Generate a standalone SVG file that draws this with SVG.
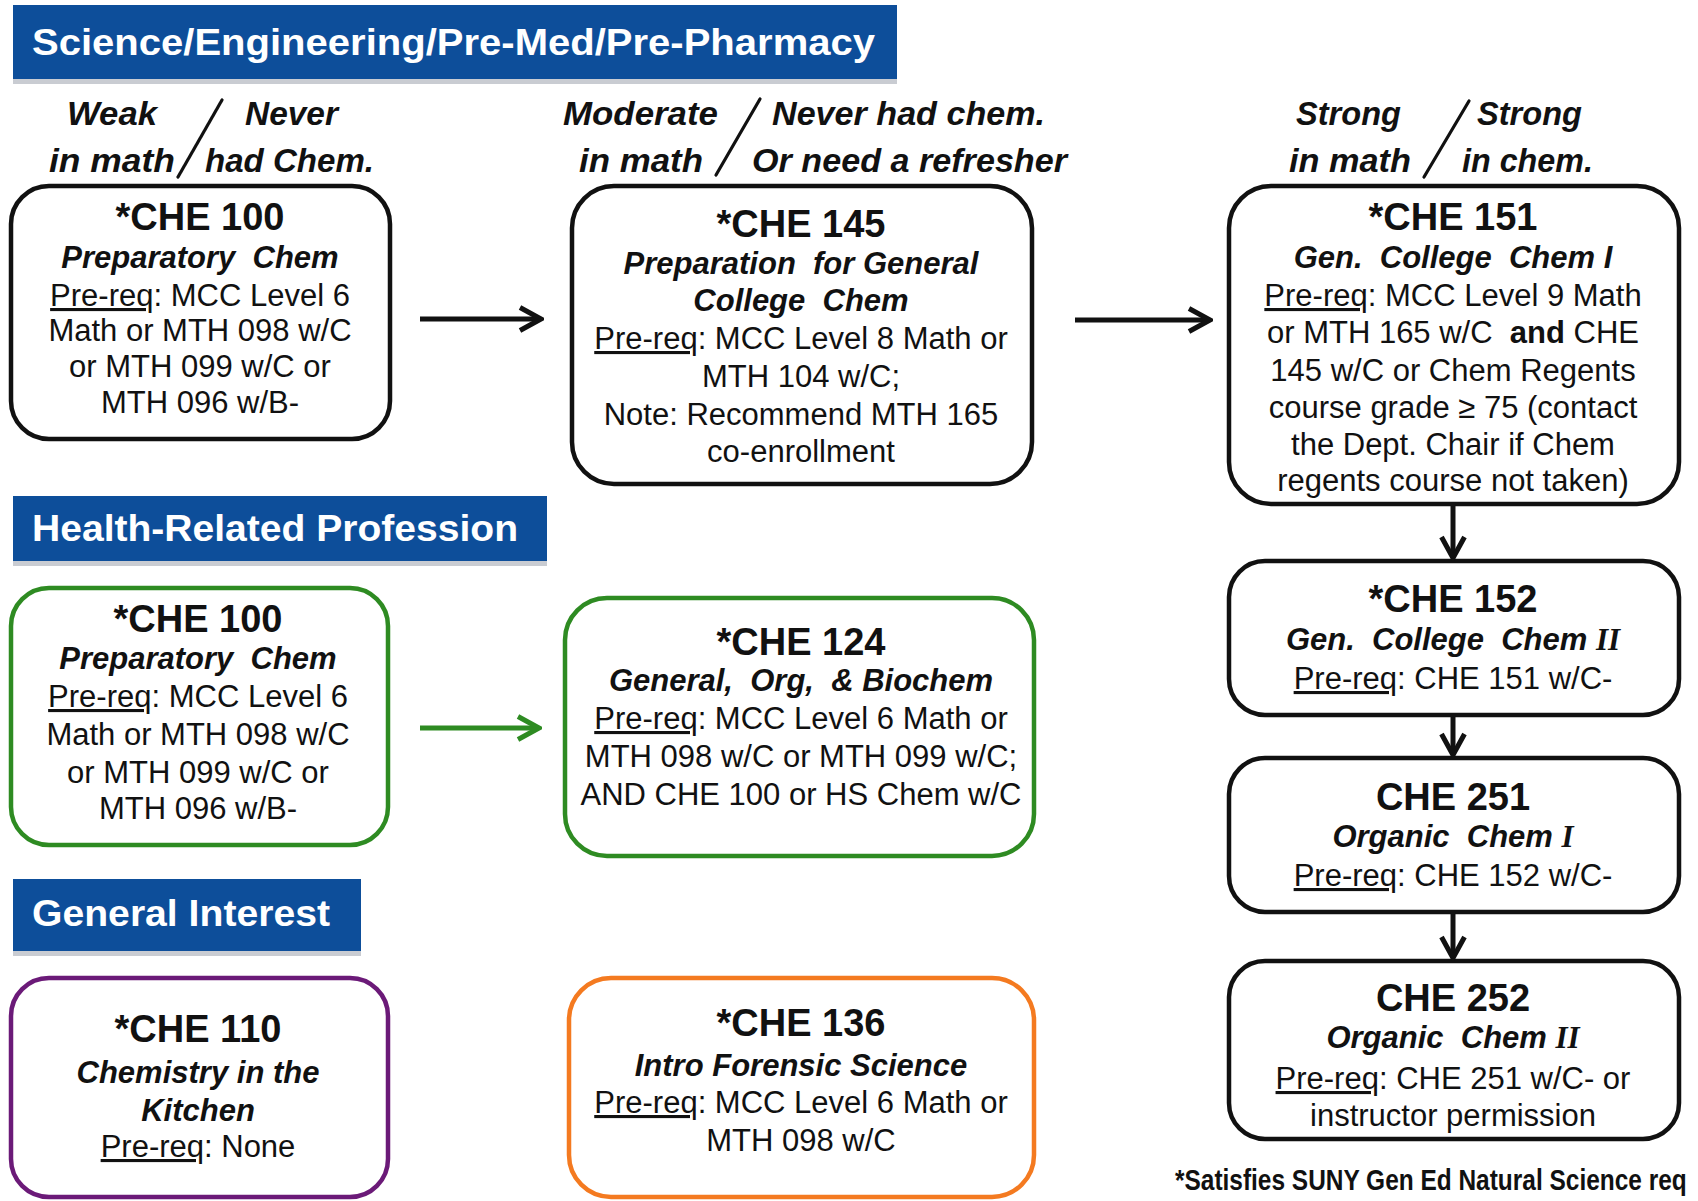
<svg xmlns="http://www.w3.org/2000/svg" width="1698" height="1201" viewBox="0 0 1698 1201">
<style>
text{font-family:"Liberation Sans",Arial,sans-serif;fill:#111}
.bn{font-weight:bold;font-size:36px;fill:#fff}
.h{font-weight:bold;font-style:italic;font-size:34px}
.t{font-weight:bold;font-size:38px;text-anchor:middle}
.s{font-weight:bold;font-style:italic;font-size:31px;text-anchor:middle}
.b{font-size:31px;text-anchor:middle}
.u{text-decoration:underline}
.rn{font-family:"Liberation Serif",serif;font-style:italic;font-weight:bold}
.box{fill:#fff;stroke-width:4.5}
.k{stroke:#111}.g{stroke:#2E8B22}.p{stroke:#6B1A78}.o{stroke:#F47A20}
.ban{fill:#0D4E9A}.sh{fill:#c9ccd2}
.ln{fill:none;stroke-width:5}
.sl{stroke:#111;stroke-width:3.2;stroke-linecap:round}
</style>
<defs>
<marker id="ak" viewBox="0 0 26 28" refX="21" refY="14" markerWidth="26" markerHeight="28" markerUnits="userSpaceOnUse" orient="auto"><path d="M2,2.5 L23,14 L2,25.5" fill="none" stroke="#111" stroke-width="5"/></marker>
<marker id="ag" viewBox="0 0 26 28" refX="21" refY="14" markerWidth="26" markerHeight="28" markerUnits="userSpaceOnUse" orient="auto"><path d="M2,2.5 L23,14 L2,25.5" fill="none" stroke="#2E8B22" stroke-width="5"/></marker>
</defs>
<rect width="1698" height="1201" fill="#fff"/>

<g id="banner-science">
<rect class="sh" x="13" y="79" width="884" height="5"/>
<rect class="ban" x="13" y="5" width="884" height="74"/>
<text class="bn" x="32" y="55" textLength="843" lengthAdjust="spacingAndGlyphs">Science/Engineering/Pre-Med/Pre-Pharmacy</text>
</g>
<g id="banner-health">
<rect class="sh" x="13" y="561" width="534" height="5"/>
<rect class="ban" x="13" y="496" width="534" height="65"/>
<text class="bn" x="32" y="541" textLength="486" lengthAdjust="spacingAndGlyphs">Health-Related Profession</text>
</g>
<g id="banner-general">
<rect class="sh" x="13" y="951" width="348" height="5"/>
<rect class="ban" x="13" y="879" width="348" height="72"/>
<text class="bn" x="32" y="926" textLength="298" lengthAdjust="spacingAndGlyphs">General Interest</text>
</g>

<g id="label-weak">
<text class="h" x="67" y="125" textLength="90" lengthAdjust="spacingAndGlyphs">Weak</text>
<text class="h" x="245" y="125" textLength="93" lengthAdjust="spacingAndGlyphs">Never</text>
<text class="h" x="49" y="172" textLength="126" lengthAdjust="spacingAndGlyphs">in math</text>
<text class="h" x="205" y="172" textLength="169" lengthAdjust="spacingAndGlyphs">had Chem.</text>
<line class="sl" x1="222" y1="100" x2="178" y2="177"/>
</g>
<g id="label-moderate">
<text class="h" x="563" y="125" textLength="155" lengthAdjust="spacingAndGlyphs">Moderate</text>
<text class="h" x="772" y="125" textLength="273" lengthAdjust="spacingAndGlyphs">Never had chem.</text>
<text class="h" x="579" y="172" textLength="124" lengthAdjust="spacingAndGlyphs">in math</text>
<text class="h" x="752" y="172" textLength="315" lengthAdjust="spacingAndGlyphs">Or need a refresher</text>
<line class="sl" x1="760" y1="99" x2="716" y2="175"/>
</g>
<g id="label-strong">
<text class="h" x="1296" y="125" textLength="105" lengthAdjust="spacingAndGlyphs">Strong</text>
<text class="h" x="1477" y="125" textLength="105" lengthAdjust="spacingAndGlyphs">Strong</text>
<text class="h" x="1289" y="172" textLength="122" lengthAdjust="spacingAndGlyphs">in math</text>
<text class="h" x="1462" y="172" textLength="131" lengthAdjust="spacingAndGlyphs">in chem.</text>
<line class="sl" x1="1469" y1="101" x2="1424" y2="177"/>
</g>

<g id="che100-sci">
<rect class="box k" x="11" y="186" width="379" height="253" rx="38"/>
<text class="t" x="200" y="230">*CHE 100</text>
<text class="s" x="200" y="268" xml:space="preserve">Preparatory  Chem</text>
<text class="b" x="200" y="306"><tspan class="u">Pre-req</tspan>: MCC Level 6</text>
<text class="b" x="200" y="341">Math or MTH 098 w/C</text>
<text class="b" x="200" y="377">or MTH 099 w/C or</text>
<text class="b" x="200" y="413">MTH 096 w/B-</text>
</g>
<g id="che145">
<rect class="box k" x="572" y="186" width="460" height="298" rx="42"/>
<text class="t" x="801" y="237">*CHE 145</text>
<text class="s" x="801" y="274" xml:space="preserve">Preparation  for General</text>
<text class="s" x="801" y="311" xml:space="preserve">College  Chem</text>
<text class="b" x="801" y="349"><tspan class="u">Pre-req</tspan>: MCC Level 8 Math or</text>
<text class="b" x="801" y="387">MTH 104 w/C;</text>
<text class="b" x="801" y="425">Note: Recommend MTH 165</text>
<text class="b" x="801" y="462">co-enrollment</text>
</g>
<g id="che151">
<rect class="box k" x="1229" y="186" width="450" height="318" rx="42"/>
<text class="t" x="1453" y="230">*CHE 151</text>
<text class="s" x="1453" y="268" xml:space="preserve">Gen.  College  Chem I</text>
<text class="b" x="1453" y="306"><tspan class="u">Pre-req</tspan>: MCC Level 9 Math</text>
<text class="b" x="1453" y="343" xml:space="preserve">or MTH 165 w/C  <tspan font-weight="bold">and</tspan> CHE</text>
<text class="b" x="1453" y="381">145 w/C or Chem Regents</text>
<text class="b" x="1453" y="418">course grade ≥ 75 (contact</text>
<text class="b" x="1453" y="455">the Dept. Chair if Chem</text>
<text class="b" x="1453" y="491">regents course not taken)</text>
</g>
<g id="che152">
<rect class="box k" x="1229" y="561" width="450" height="154" rx="36"/>
<text class="t" x="1453" y="612">*CHE 152</text>
<text class="s" x="1453" y="650" xml:space="preserve">Gen.  College  Chem <tspan class="rn">II</tspan></text>
<text class="b" x="1453" y="689"><tspan class="u">Pre-req</tspan>: CHE 151 w/C-</text>
</g>
<g id="che251">
<rect class="box k" x="1229" y="758" width="450" height="154" rx="36"/>
<text class="t" x="1453" y="810">CHE 251</text>
<text class="s" x="1453" y="847" xml:space="preserve">Organic  Chem <tspan class="rn">I</tspan></text>
<text class="b" x="1453" y="886"><tspan class="u">Pre-req</tspan>: CHE 152 w/C-</text>
</g>
<g id="che252">
<rect class="box k" x="1229" y="961" width="450" height="178" rx="36"/>
<text class="t" x="1453" y="1011">CHE 252</text>
<text class="s" x="1453" y="1048" xml:space="preserve">Organic  Chem <tspan class="rn">II</tspan></text>
<text class="b" x="1453" y="1089"><tspan class="u">Pre-req</tspan>: CHE 251 w/C- or</text>
<text class="b" x="1453" y="1126">instructor permission</text>
</g>
<g id="che100-health">
<rect class="box g" x="11" y="588" width="377" height="257" rx="38"/>
<text class="t" x="198" y="632">*CHE 100</text>
<text class="s" x="198" y="669" xml:space="preserve">Preparatory  Chem</text>
<text class="b" x="198" y="707"><tspan class="u">Pre-req</tspan>: MCC Level 6</text>
<text class="b" x="198" y="745">Math or MTH 098 w/C</text>
<text class="b" x="198" y="783">or MTH 099 w/C or</text>
<text class="b" x="198" y="819">MTH 096 w/B-</text>
</g>
<g id="che124">
<rect class="box g" x="565" y="598" width="469" height="258" rx="42"/>
<text class="t" x="801" y="655">*CHE 124</text>
<text class="s" x="801" y="691" xml:space="preserve">General,  Org,  &amp; Biochem</text>
<text class="b" x="801" y="729"><tspan class="u">Pre-req</tspan>: MCC Level 6 Math or</text>
<text class="b" x="801" y="767">MTH 098 w/C or MTH 099 w/C;</text>
<text class="b" x="801" y="805">AND CHE 100 or HS Chem w/C</text>
</g>
<g id="che110">
<rect class="box p" x="11" y="978" width="377" height="219" rx="38"/>
<text class="t" x="198" y="1042">*CHE 110</text>
<text class="s" x="198" y="1083">Chemistry in the</text>
<text class="s" x="198" y="1121">Kitchen</text>
<text class="b" x="198" y="1157"><tspan class="u">Pre-req</tspan>: None</text>
</g>
<g id="che136">
<rect class="box o" x="569" y="978" width="465" height="219" rx="42"/>
<text class="t" x="801" y="1036">*CHE 136</text>
<text class="s" x="801" y="1076">Intro Forensic Science</text>
<text class="b" x="801" y="1113"><tspan class="u">Pre-req</tspan>: MCC Level 6 Math or</text>
<text class="b" x="801" y="1151">MTH 098 w/C</text>
</g>

<g id="connectors">
<line class="ln" stroke="#111" x1="420" y1="319" x2="539" y2="319" marker-end="url(#ak)"/>
<line class="ln" stroke="#111" x1="1075" y1="320" x2="1208" y2="320" marker-end="url(#ak)"/>
<line class="ln" stroke="#2E8B22" x1="420" y1="728" x2="537" y2="728" marker-end="url(#ag)"/>
<line class="ln" stroke="#111" x1="1453" y1="504" x2="1453" y2="556" marker-end="url(#ak)"/>
<line class="ln" stroke="#111" x1="1453" y1="715" x2="1453" y2="753" marker-end="url(#ak)"/>
<line class="ln" stroke="#111" x1="1453" y1="912" x2="1453" y2="956" marker-end="url(#ak)"/>
</g>

<g id="footnote">
<text transform="translate(1175,1190) scale(0.815,1)" x="0" y="0" font-weight="bold" font-size="30">*Satisfies SUNY Gen Ed Natural Science req</text>
</g>
</svg>
